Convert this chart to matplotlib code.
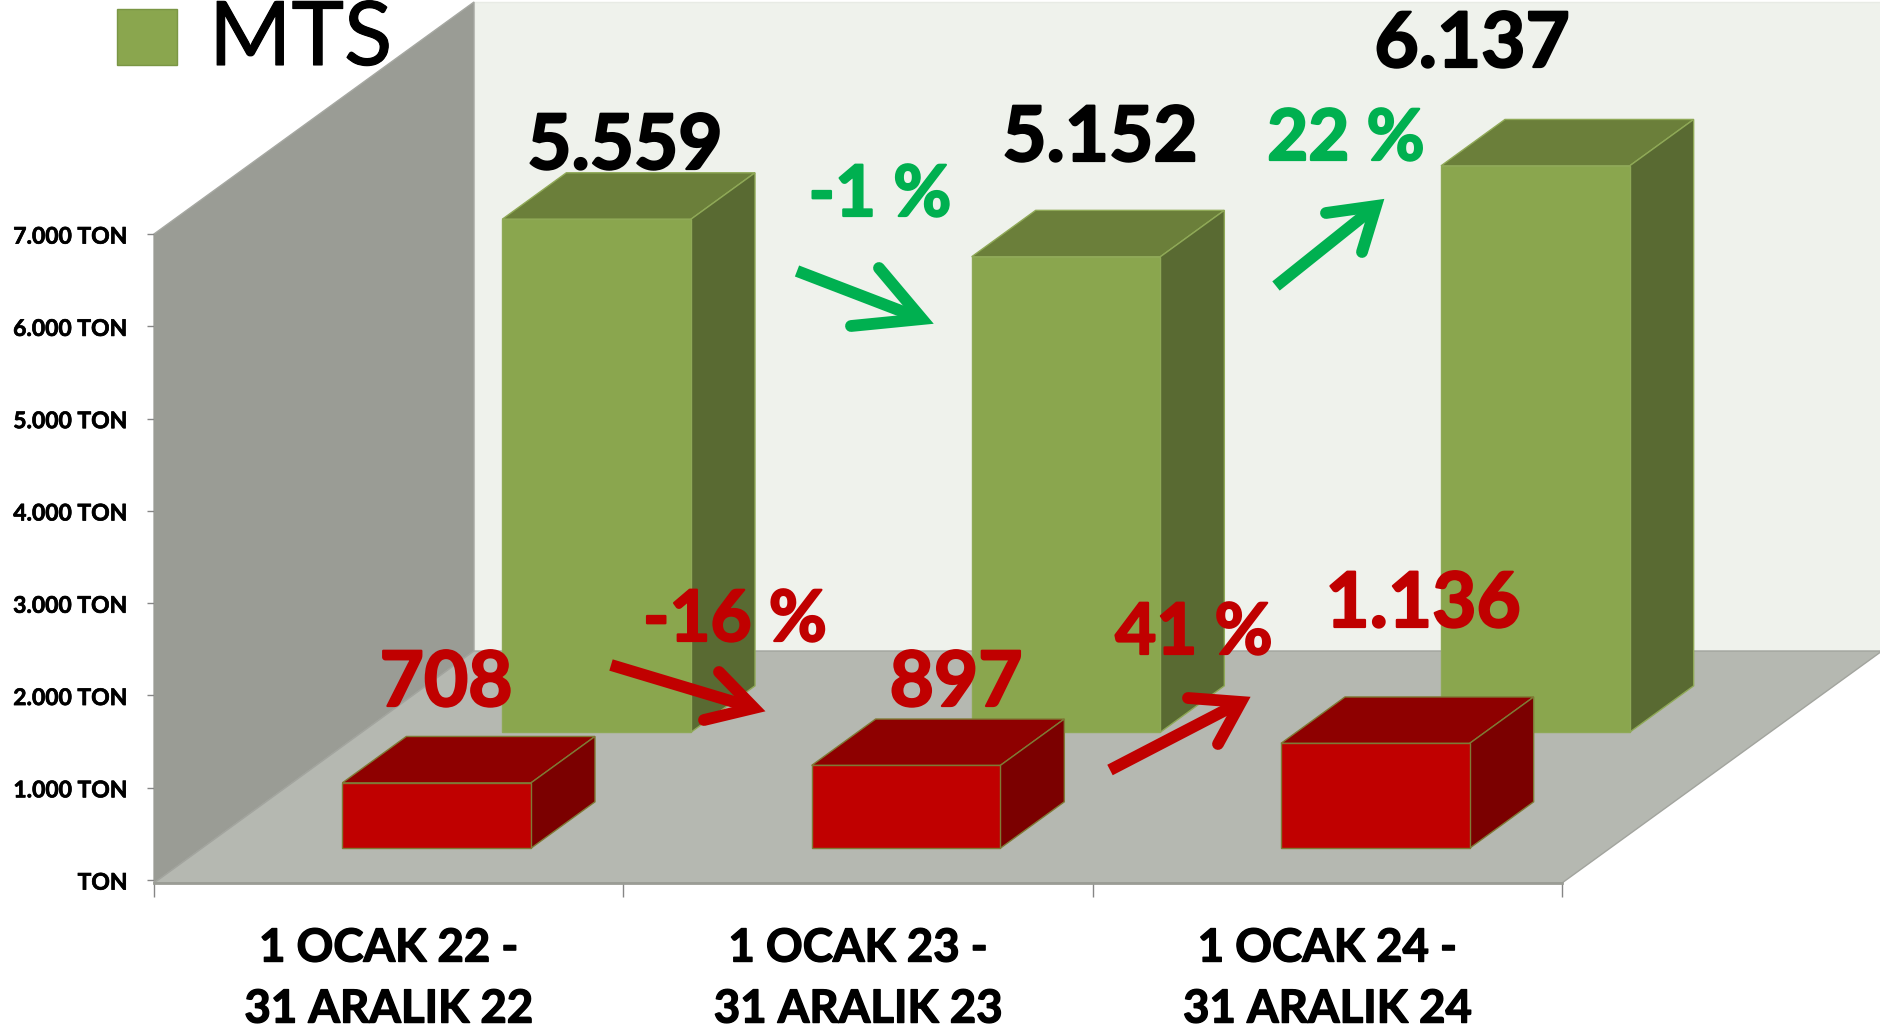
import matplotlib
matplotlib.use("Agg")
import matplotlib.pyplot as plt
import matplotlib.patheffects as pe
from matplotlib.lines import Line2D
from matplotlib.patches import Rectangle
from matplotlib.transforms import ScaledTranslation

plt.rcParams['font.family'] = ['Lato', 'DejaVu Sans']

W, H = 1881, 1030

periods = ["1 OCAK 22 -\n31 ARALIK 22", "1 OCAK 23 -\n31 ARALIK 23", "1 OCAK 24 -\n31 ARALIK 24"]
mts_tons = [5559, 5152, 6137]
red_tons = [708, 897, 1136]
mts_labels = ["5.559", "5.152", "6.137"]
red_labels = ["708", "897", "1.136"]
tick_values = [0, 1000, 2000, 3000, 4000, 5000, 6000, 7000]
tick_labels = ["TON", "1.000 TON", "2.000 TON", "3.000 TON", "4.000 TON", "5.000 TON", "6.000 TON", "7.000 TON"]
mts_changes = ["-1 %", "22 %"]
red_changes = ["-16 %", "41 %"]

# plot box in pixels, the 3d look is an oblique shift of the data coords
LEFT, RIGHT, Y0, Y7000 = 154, 1562, 880, 234
CAT_PX = (RIGHT - LEFT) / 3
TON_PX = (Y0 - Y7000) / 7000
DX = 320 / CAT_PX
DY = 232 / TON_PX
FLOOR = -3 / TON_PX
BAR_W = 0.402


def project(x, y, d):
    return x + d * DX, y + d * DY


def fill3d(ax, pts, color, edge=None, z=1, lw=1.0):
    xs, ys = zip(*[project(*p) for p in pts])
    ax.fill(xs, ys, facecolor=color, edgecolor=edge or color, linewidth=lw, clip_on=False, zorder=z)


def bar3d(ax, x, value, d0, d1, colors, edge, z):
    front, top, side = colors
    a, b = x - BAR_W / 2, x + BAR_W / 2
    y0 = FLOOR
    y1 = FLOOR + value
    fill3d(ax, [(a, y1, d0), (a, y1, d1), (b, y1, d1), (b, y1, d0)], top, edge, z)
    fill3d(ax, [(b, y0, d0), (b, y1, d0), (b, y1, d1), (b, y0, d1)], side, edge, z)
    fill3d(ax, [(a, y0, d0), (a, y1, d0), (b, y1, d0), (b, y0, d0)], front, edge, z)


def fx(x):
    return x / W


def fy(y):
    return 1 - y / H


def thick(t, width):
    t.set_path_effects([pe.withStroke(linewidth=width, foreground=t.get_color())])


fig = plt.figure(figsize=(W / 100, H / 100), dpi=100, facecolor='white')
ax = fig.add_axes([fx(LEFT), fy(Y0), (RIGHT - LEFT) / W, (Y0 - Y7000) / H])
ax.set_xlim(0, 3)
ax.set_ylim(0, 7000)
ax.patch.set_alpha(0)

# walls and floor
wall_top = 7000
fill3d(ax, [(0, FLOOR, 1), (0, wall_top, 1), (3, wall_top, 1), (3, FLOOR, 1)], '#EFF2EC', '#E8EBE5', 1)
fill3d(ax, [(0, FLOOR, 0), (0, wall_top, 0), (0, wall_top, 1), (0, FLOOR, 1)], '#9A9C95', '#A6A8A2', 1)
fill3d(ax, [(0, FLOOR, 0), (3, FLOOR, 0), (3, FLOOR, 1), (0, FLOOR, 1)], '#B5B8B1', '#A2A49E', 1)

green = ('#8AA64E', '#6B7F3A', '#596A32')
red = ('#C00000', '#8E0000', '#7B0000')
for i in range(3):
    bar3d(ax, i + 0.5, mts_tons[i], 0.65, 0.85, green, '#8FA957', 2)
for i in range(3):
    bar3d(ax, i + 0.5, red_tons[i], 0.15, 0.35, red, '#7F7A35', 3)

# axes
for s in ['top', 'right']:
    ax.spines[s].set_visible(False)
ax.spines['left'].set_color('#9A9C95')
ax.spines['bottom'].set_color('#9A9C95')
ax.spines['bottom'].set_linewidth(2)
ax.spines['bottom'].set_position(('outward', 2.2))
ax.set_yticks(tick_values)
ax.set_yticklabels(tick_labels, fontsize=16.5, fontweight='bold', color='black')
ax.set_xticks([0, 1, 2, 3])
ax.set_xticklabels([])
ax.set_xticks([0.5, 1.5, 2.5], minor=True)
ax.set_xticklabels(periods, minor=True, fontsize=32.8, fontweight='bold', linespacing=1.56)
ax.tick_params(axis='y', length=5, width=1, color='#868686', pad=14)
ax.tick_params(axis='x', which='major', length=10, width=1, color='#868686')
ax.tick_params(axis='x', which='minor', length=0, pad=32)

down = ScaledTranslation(0, -0.8 / 72, fig.dpi_scale_trans)
for t in ax.get_yticklabels():
    t.set_transform(t.get_transform() + down)
    thick(t, 0.5)
for t in ax.get_xticklabels(minor=True):
    thick(t, 1.0)


def label(x, y, s, size, color='black', weight='bold', ha='center', stroke=1.6):
    t = fig.text(fx(x), fy(y), s, fontsize=size, color=color, fontweight=weight, ha=ha, va='baseline', zorder=6)
    if stroke:
        thick(t, stroke)


# legend
fig.add_artist(Rectangle((fx(117), fy(65)), 60 / W, 56 / H, transform=fig.transFigure,
                         facecolor='#8AA64E', edgecolor='#7A9644', linewidth=1))
label(209, 65, "MTS", 64, weight='normal', ha='left', stroke=0.8)

# value labels
for s, x, y in zip(mts_labels, [625, 1100, 1472], [169, 161, 67]):
    label(x, y, s, 55)
for s, x, y in zip(red_labels, [446, 956, 1423], [706, 706, 627]):
    label(x, y, s, 55, '#C00000')

for s, x, y in zip(mts_changes, [880, 1346], [216, 160]):
    label(x, y, s, 51, '#00B050')
for s, x, y in zip(red_changes, [735, 1194], [641, 654]):
    label(x, y, s, 51, '#C00000')


def arrow(start, tip, arm1, arm2, color, lw):
    fig.add_artist(Line2D([fx(start[0]), fx(tip[0])], [fy(start[1]), fy(tip[1])], transform=fig.transFigure,
                          color=color, linewidth=lw, solid_capstyle='butt', zorder=5))
    fig.add_artist(Line2D([fx(arm1[0]), fx(tip[0]), fx(arm2[0])], [fy(arm1[1]), fy(tip[1]), fy(arm2[1])],
                          transform=fig.transFigure, color=color, linewidth=lw,
                          solid_capstyle='round', solid_joinstyle='miter', zorder=5))


arrow((797, 271), (922, 319), (879, 268), (851, 326), '#00B050', 8.5)
arrow((1276, 286), (1376, 206), (1326, 213), (1362, 252), '#00B050', 8.5)
arrow((611, 665), (754, 708), (719, 672), (704, 720), '#C00000', 8.5)
arrow((1110, 770), (1241, 702), (1188, 698), (1218, 744), '#C00000', 8.5)

fig.savefig("out.png", dpi=100)
